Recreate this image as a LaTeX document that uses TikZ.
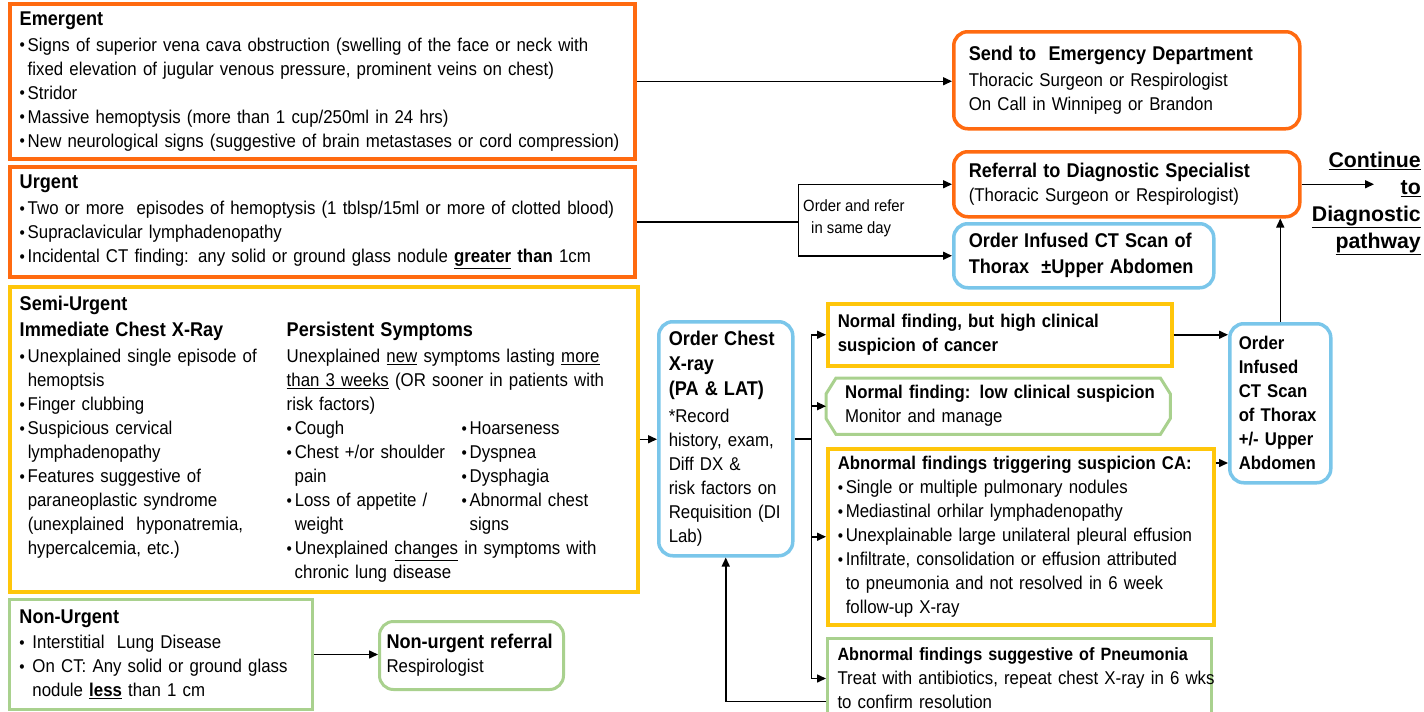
\documentclass[tikz,border=0pt]{standalone}
\usepackage{fontspec}
\setmainfont{Liberation Sans}[FakeStretch=0.91]
\newfontfamily\contfont{Liberation Sans}
\usepackage{graphicx}
\usetikzlibrary{arrows.meta}

\definecolor{orng}{HTML}{FF6A10}
\definecolor{yllw}{HTML}{FFC60A}
\definecolor{blu}{HTML}{7AC6EA}
\definecolor{grn}{HTML}{A9D18E}

\newcommand{\bodyfont}{\fontsize{18.5}{24}\selectfont}
\newcommand{\hdfont}{\fontsize{19.9}{24}\selectfont\bfseries}
\newcommand{\hdsfont}{\fontsize{18.4}{24}\selectfont\bfseries}
\newcommand{\hd}[1]{\mbox{\hdfont #1}}
\newcommand{\hds}[1]{\mbox{\hdsfont #1}}
\newcommand{\lne}[1]{\mbox{#1}}
\newcommand{\dotb}{\raisebox{0.5pt}{\scalebox{0.9}{\textbullet}}}
\newcommand{\bl}[1]{\mbox{\makebox[8pt][l]{\dotb}#1}}
\newcommand{\blw}[1]{\mbox{\makebox[13pt][l]{\dotb}#1}}
\newcommand{\ci}[1]{\mbox{\hspace*{8pt}#1}}
\newcommand{\lcol}[1]{\makebox[267pt][l]{#1}}
\newcommand{\scol}[1]{\makebox[175pt][l]{#1}}

\tikzset{
  box/.style={draw, anchor=north west, align=left, inner ysep=0pt, font=\bodyfont},
  orbox/.style={box, draw=orng, line width=3.5pt},
  ylbox/.style={box, draw=yllw, line width=3.5pt},
  blbox/.style={box, draw=blu, line width=3.5pt, rounded corners=14pt},
  grbox/.style={box, draw=grn, line width=3pt},
  rnd/.style={rounded corners=14pt},
  link/.style={line width=1.5pt},
  arr/.style={link, -{Triangle[length=9pt,width=8pt]}}
}

\begin{document}
\begin{tikzpicture}[x=1pt, y=-1pt]
 \useasboundingbox (0, 0) rectangle (1424, 712);

 \draw (8, 2) node[orbox, minimum width=625pt, minimum height=155pt, text width=605pt, inner xsep=10pt] (emerg) {\hd{Emergent}\\[2pt]
  \bl{Signs of superior vena cava obstruction (swelling of the face or neck with}\\
  \ci{fixed elevation of jugular venous pressure, prominent veins on chest)}\\
  \bl{Stridor}\\
  \bl{Massive hemoptysis (more than 1 cup/250ml in 24 hrs)}\\
  \bl{New neurological signs (suggestive of brain metastases or cord compression)}};
 \draw (8, 165) node[orbox, minimum width=625pt, minimum height=110pt, text width=605pt, inner xsep=10pt] (urgent) {\hd{Urgent}\\[2pt]
  \bl{Two or more\ \ episodes of hemoptysis (1 tblsp/15ml or more of clotted blood)}\\
  \bl{Supraclavicular lymphadenopathy}\\
  \bl{Incidental CT finding: any solid or ground glass nodule \textbf{\underline{greater} than} 1cm}};
 \draw (8, 285) node[ylbox, minimum width=628pt, minimum height=305pt, text width=608pt, inner xsep=10pt] (semi) {\hd{Semi-Urgent}\\[2pt]
  \lne{\lcol{\hd{Immediate Chest X-Ray}}\hd{Persistent Symptoms}}\\[2pt]
  \lne{\lcol{\bl{Unexplained single episode of}}Unexplained \underline{new} symptoms lasting \underline{more}}\\
  \lne{\lcol{\ci{hemoptsis}}\underline{than 3 weeks} (OR sooner in patients with}\\
  \lne{\lcol{\bl{Finger clubbing}}risk factors)}\\
  \lne{\lcol{\bl{Suspicious cervical}}\scol{\bl{Cough}}\bl{Hoarseness}}\\
  \lne{\lcol{\ci{lymphadenopathy}}\scol{\bl{Chest +/or shoulder}}\bl{Dyspnea}}\\
  \lne{\lcol{\bl{Features suggestive of}}\scol{\ci{pain}}\bl{Dysphagia}}\\
  \lne{\lcol{\ci{paraneoplastic syndrome}}\scol{\bl{Loss of appetite /}}\bl{Abnormal chest}}\\
  \lne{\lcol{\ci{(unexplained\ \ hyponatremia,}}\scol{\ci{weight}}\ci{signs}}\\
  \lne{\lcol{\ci{hypercalcemia, etc.)}}\bl{Unexplained \underline{changes} in symptoms with}}\\
  \lne{\lcol{}\ci{chronic lung disease}}};
 \draw (8, 598) node[grbox, minimum width=303pt, minimum height=110pt, text width=283pt, inner xsep=10pt] (nonurg) {\hd{Non-Urgent}\\[1pt]
  \blw{Interstitial\ \ Lung Disease}\\
  \blw{On CT: Any solid or ground glass}\\
  \lne{\hspace*{13pt}nodule \textbf{\underline{less}} than 1 cm}};
 \draw (378, 620) node[grbox, rnd, minimum width=184pt, minimum height=68pt, text width=170pt, inner xsep=7pt] (nonref) {\hd{Non-urgent referral}\\ \lne{Respirologist}};

 \draw (952, 30) node[orbox, rnd, minimum width=346pt, minimum height=97pt, text width=316pt, inner xsep=15pt] (sended) {\hd{Send to\ \ Emergency Department}\\[2pt]
  \lne{Thoracic Surgeon or Respirologist}\\
  \lne{On Call in Winnipeg or Brandon}};
 \draw (952, 150) node[orbox, rnd, minimum width=346pt, minimum height=65pt, text width=316pt, inner xsep=15pt] (refspec) {\hd{Referral to Diagnostic Specialist}\\
  \lne{(Thoracic Surgeon or Respirologist)}};
 \draw (952, 222) node[blbox, minimum width=260pt, minimum height=64pt, text width=230pt, inner xsep=15pt] (ctorder) {\hd{Order Infused CT Scan of}\\[2pt] \hd{Thorax\ \ ±Upper Abdomen}};
 \draw (803, 218) node[anchor=west, align=left, inner sep=0pt, font={\fontsize{16.3}{22}\selectfont}] (sameday) {Order and refer\\ \hspace*{8pt}in same day};
 \draw (1421, 152) node[anchor=north east, align=right, inner sep=0pt, font={\contfont\fontsize{21.3}{27}\selectfont\bfseries}] (cont) {\underline{Continue}\\ \underline{to}\\ \underline{Diagnostic}\\ \underline{pathway}};
 \coordinate (contin) at (1374, 183);

 \draw (657, 320) node[blbox, minimum width=134pt, minimum height=234pt, text width=114pt, inner xsep=10pt] (chestx) {\hd{Order Chest}\\[1pt] \hd{X-ray}\\[1pt] \hd{(PA \& LAT)}\\[3pt]
  \lne{*Record}\\ \lne{history, exam,}\\ \lne{Diff DX \&}\\ \lne{risk factors on}\\ \lne{Requisition (DI}\\ \lne{Lab)}};
 \draw (826, 302) node[ylbox, minimum width=344pt, minimum height=62pt, text width=324pt, inner xsep=10pt] (normhigh) {\hds{Normal finding, but high clinical}\\ \hds{suspicion of cancer}};
 \draw (826, 378) node[box, draw=none, minimum width=344pt, minimum height=56pt, text width=306pt, inner xsep=19pt] (normlow) {\hds{Normal finding: low clinical suspicion}\\ \lne{Monitor and manage}};
 \draw[grn, line width=3pt] ([xshift=10pt]normlow.north west) -- ([xshift=-10pt]normlow.north east) -- ([yshift=-16pt]normlow.north east) -- ([yshift=16pt]normlow.south east) -- ([xshift=-10pt]normlow.south east) -- ([xshift=10pt]normlow.south west) -- ([yshift=16pt]normlow.south west) -- ([yshift=-16pt]normlow.north west) -- cycle;
 \draw (826, 447) node[ylbox, minimum width=386pt, minimum height=176pt, text width=366pt, inner xsep=10pt] (abnca) {\hds{Abnormal findings triggering suspicion CA:}\\
  \bl{Single or multiple pulmonary nodules}\\
  \bl{Mediastinal orhilar lymphadenopathy}\\
  \bl{Unexplainable large unilateral pleural effusion}\\
  \bl{Infiltrate, consolidation or effusion attributed}\\
  \ci{to pneumonia and not resolved in 6 week}\\
  \ci{follow-up X-ray}};
 \draw (826, 637) node[grbox, minimum width=384pt, minimum height=80pt, text width=364pt, inner xsep=10pt] (pneu) {\mbox{\fontsize{17.8}{24}\selectfont\bfseries Abnormal findings suggestive of Pneumonia}\\
  \lne{Treat with antibiotics, repeat chest X-ray in 6 wks}\\
  \lne{to confirm resolution}};
 \draw (1228, 322) node[blbox, minimum width=101pt, minimum height=159pt, text width=83pt, inner xsep=9pt] (ctright) {\hds{Order}\\ \hds{Infused}\\ \hds{CT Scan}\\ \hds{of Thorax}\\ \hds{+/- Upper}\\ \hds{Abdomen}};

 \path (urgent.east) ++(162, 0) coordinate (split);
 \path (chestx.east) ++(17, 0) coordinate (fork);
 \coordinate (abnout) at ([yshift=-16pt]abnca.north east);

 \draw[arr] (emerg.east) -- (emerg.east -| sended.west);
 \draw[link] (urgent.east) -- (split);
 \draw[arr] (split) |- (refspec.west);
 \draw[arr] (split) |- (ctorder.west);
 \draw[arr] (refspec.east) -- (refspec.east -| contin);
 \draw[arr] (semi.east) -- (semi.east -| chestx.west);
 \draw[link] (chestx.east) -- (fork);
 \draw[arr] (fork) |- (normhigh.west);
 \draw[arr] (fork) |- (normlow.west);
 \draw[arr] (fork) |- (abnca.west);
 \draw[arr] (fork) |- (pneu.west);
 \draw[arr] (normhigh.east) -- (normhigh.east -| ctright.west);
 \draw[arr] (abnout) -- (abnout -| ctright.west);
 \draw[arr] (ctright.north) -- (ctright.north |- refspec.south);
 \draw[arr] ([yshift=-23pt]pneu.west) -| (chestx.south);
 \draw[arr] (nonurg.east) -- (nonurg.east -| nonref.west);
\end{tikzpicture}
\end{document}
